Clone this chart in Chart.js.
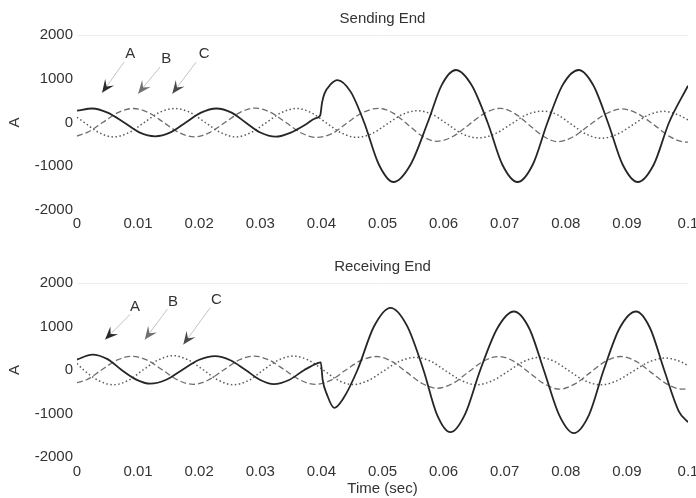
<!DOCTYPE html>
<html><head><meta charset="utf-8">
<script src="https://cdn.jsdelivr.net/npm/chart.js@4.4.1/dist/chart.umd.min.js"></script>
<style>
html,body{margin:0;padding:0;background:#fff;overflow:hidden;width:696px;height:498px;position:relative;}
canvas{position:absolute;left:0;}
#c1{top:0}
#c2{top:249px}
</style></head><body>
<canvas id="c1" width="720" height="249"></canvas>
<canvas id="c2" width="720" height="249"></canvas>
<script>
// ---------- axis ticks ----------
const xTicks = [0, 0.01, 0.02, 0.03, 0.04, 0.05, 0.06, 0.07, 0.08, 0.09, 0.1];
const xTickLabels = ['0', '0.01', '0.02', '0.03', '0.04', '0.05', '0.06', '0.07', '0.08', '0.09', '0.1'];
const yTicks = [-2000, -1000, 0, 1000, 2000];
const yTickLabels = ['-2000', '-1000', '0', '1000', '2000'];
const phaseNames = ['A', 'B', 'C'];

// ---------- Sending End (time in s, current in A) ----------
const sendTimeA = [0, 0.0025, 0.005, 0.0077, 0.0102, 0.0128, 0.0153, 0.0178, 0.0203, 0.0228, 0.0253, 0.0276, 0.0300, 0.0325, 0.0350, 0.0375, 0.0390, 0.0398, 0.0401, 0.0405, 0.0415, 0.0426, 0.0448, 0.0470, 0.0494, 0.0518, 0.0546, 0.0574, 0.0597, 0.0620, 0.0646, 0.0672, 0.0696, 0.0721, 0.0746, 0.0770, 0.0795, 0.0821, 0.0845, 0.0869, 0.0893, 0.0918, 0.0944, 0.0969, 0.1];
const sendA = [270, 320, 225, 0, -225, -315, -225, 0, 225, 320, 225, 0, -230, -325, -230, -40, 95, 160, 450, 660, 870, 970, 700, 0, -960, -1360, -960, 0, 860, 1200, 850, 0, -960, -1360, -960, 0, 860, 1200, 850, 0, -960, -1360, -960, 0, 840];

const sendTimeB = [0, 0.0017, 0.0042, 0.0067, 0.0092, 0.0117, 0.0142, 0.0167, 0.0192, 0.0217, 0.0242, 0.0267, 0.0292, 0.0317, 0.0342, 0.0367, 0.0392, 0.0418, 0.0443, 0.0468, 0.0494, 0.0518, 0.0542, 0.0566, 0.0589, 0.0615, 0.0641, 0.0667, 0.0693, 0.0716, 0.0740, 0.0764, 0.0787, 0.0813, 0.0839, 0.0866, 0.0892, 0.0918, 0.0945, 0.0971, 0.0998, 0.1];
const sendB = [-310, -225, 0, 225, 320, 225, 0, -230, -330, -230, 0, 230, 330, 230, 0, -240, -340, -250, 0, 230, 325, 210, -55, -320, -430, -320, -55, 210, 325, 210, -55, -320, -440, -320, -55, 200, 310, 200, -60, -330, -450, -450];

const sendTimeC = [0, 0.0012, 0.0036, 0.006, 0.0085, 0.011, 0.0135, 0.016, 0.0185, 0.021, 0.0235, 0.026, 0.0285, 0.031, 0.0335, 0.036, 0.0384, 0.0408, 0.0433, 0.0457, 0.0482, 0.0507, 0.0532, 0.0557, 0.0582, 0.0607, 0.0632, 0.0658, 0.0684, 0.071, 0.0736, 0.0762, 0.0786, 0.081, 0.0834, 0.0858, 0.0884, 0.091, 0.0935, 0.0961, 0.0985, 0.1];
const sendC = [120, 0, -230, -330, -230, 0, 230, 320, 230, 0, -230, -330, -230, 0, 230, 320, 220, -10, -240, -340, -260, -40, 180, 270, 180, -45, -270, -350, -260, -40, 180, 260, 180, -50, -270, -360, -270, -50, 170, 255, 170, 60];

// ---------- Receiving End ----------
const recvTimeA = [0, 0.0025, 0.005, 0.0073, 0.0097, 0.012, 0.0146, 0.0172, 0.0199, 0.0226, 0.0251, 0.0276, 0.030, 0.0322, 0.0347, 0.0372, 0.0395, 0.0399, 0.0402, 0.0409, 0.0421, 0.0436, 0.0459, 0.0486, 0.0513, 0.054, 0.0567, 0.0589, 0.0611, 0.0635, 0.066, 0.0688, 0.0715, 0.074, 0.0764, 0.0789, 0.0813, 0.0838, 0.0862, 0.0888, 0.0915, 0.0938, 0.0961, 0.0985, 0.1];
const recvA = [240, 355, 250, 0, -220, -315, -225, 0, 230, 320, 225, 0, -230, -325, -230, 0, 165, 175, -220, -560, -870, -650, 0, 1000, 1430, 1020, 0, -1020, -1430, -1020, 0, 960, 1345, 960, 0, -1030, -1450, -1030, 0, 960, 1345, 960, 0, -950, -1200];

const recvTimeB = [0, 0.0015, 0.004, 0.0065, 0.009, 0.0115, 0.014, 0.0165, 0.019, 0.0215, 0.024, 0.0265, 0.029, 0.0315, 0.034, 0.0365, 0.039, 0.0415, 0.044, 0.0465, 0.049, 0.0515, 0.054, 0.0565, 0.059, 0.0615, 0.064, 0.0665, 0.069, 0.0715, 0.074, 0.0765, 0.079, 0.0815, 0.084, 0.0865, 0.089, 0.0915, 0.094, 0.0965, 0.099, 0.1];
const recvB = [-290, -230, 0, 225, 315, 225, 0, -230, -330, -230, 0, 230, 320, 225, 0, -230, -330, -240, 0, 220, 310, 200, -55, -310, -420, -310, -55, 200, 310, 200, -60, -320, -440, -320, -60, 200, 310, 200, -60, -320, -440, -430];

const recvTimeC = [0, 0.0011, 0.0035, 0.0059, 0.0084, 0.0108, 0.0133, 0.0157, 0.0182, 0.0207, 0.0232, 0.0256, 0.0281, 0.0305, 0.033, 0.0354, 0.0379, 0.0403, 0.0428, 0.0452, 0.0477, 0.0502, 0.0528, 0.0554, 0.0579, 0.0604, 0.0629, 0.0654, 0.068, 0.0706, 0.0732, 0.0757, 0.0781, 0.0806, 0.0831, 0.0857, 0.0884, 0.091, 0.0937, 0.0964, 0.0988, 0.1];
const recvC = [150, 0, -240, -340, -240, 0, 230, 330, 230, 0, -240, -340, -240, 0, 230, 320, 225, 0, -240, -335, -240, -20, 200, 290, 200, -25, -240, -340, -245, -25, 200, 290, 200, -25, -245, -340, -245, -30, 190, 275, 190, 100];

// ---------- arrow annotations (data coordinates: [time, current]) ----------
const sendArrowLabel = [[0.0087, 1570], [0.0146, 1450], [0.0208, 1570]];
const sendArrowFrom  = [[0.0077, 1380], [0.0136, 1270], [0.0195, 1380]];
const sendArrowTip   = [[0.0041, 680], [0.0100, 660], [0.0156, 660]];
const recvArrowLabel = [[0.0095, 1450], [0.0157, 1570], [0.0228, 1610]];
const recvArrowFrom  = [[0.0087, 1280], [0.0148, 1400], [0.0218, 1430]];
const recvArrowTip   = [[0.0046, 700], [0.0111, 700], [0.0174, 585]];

// ---------- rendering ----------
const FONT = "'Liberation Sans', Arial, Helvetica, sans-serif";
Chart.defaults.font.family = FONT;
Chart.defaults.color = '#333';

function pts(ts, vs) { return ts.map((t, i) => ({x: t, y: vs[i]})); }

const lineStyles = [
  {borderColor: '#262626', borderWidth: 1.8, borderDash: []},
  {borderColor: '#6e6e6e', borderWidth: 1.3, borderDash: [6, 3]},
  {borderColor: '#5a5a5a', borderWidth: 1.5, borderDash: [1.5, 2.5]}
];
const arrowColors = ['#2a2a2a', '#707070', '#4a4a4a'];

const arrowPlugin = {
  id: 'phaseArrows',
  afterDatasetsDraw(chart, args, opts) {
    const {ctx} = chart;
    const xs = chart.scales.x, ys = chart.scales.y;
    ctx.save();
    opts.labels.forEach((lab, i) => {
      const lx = xs.getPixelForValue(lab[0]), ly = ys.getPixelForValue(lab[1]);
      const fx = xs.getPixelForValue(opts.from[i][0]), fy = ys.getPixelForValue(opts.from[i][1]);
      const tx = xs.getPixelForValue(opts.tip[i][0]), ty = ys.getPixelForValue(opts.tip[i][1]);
      ctx.strokeStyle = '#c4c4c4';
      ctx.lineWidth = 1;
      ctx.setLineDash([]);
      ctx.beginPath(); ctx.moveTo(fx, fy); ctx.lineTo(tx, ty); ctx.stroke();
      let dx = tx - fx, dy = ty - fy; const len = Math.hypot(dx, dy); dx /= len; dy /= len;
      const nx = -dy, ny = dx, L = 13, W = 5.5;
      ctx.fillStyle = arrowColors[i];
      ctx.beginPath();
      ctx.moveTo(tx, ty);
      ctx.lineTo(tx - dx * L + nx * W, ty - dy * L + ny * W);
      ctx.lineTo(tx - dx * L * 0.6, ty - dy * L * 0.6);
      ctx.lineTo(tx - dx * L - nx * W, ty - dy * L - ny * W);
      ctx.closePath(); ctx.fill();
      ctx.fillStyle = '#333';
      ctx.font = '15px ' + FONT;
      ctx.textAlign = 'center'; ctx.textBaseline = 'middle';
      ctx.fillText(phaseNames[i], lx, ly);
    });
    ctx.restore();
  }
};

function makeChart(id, title, series, arrows, titlePad, xHeight, xTickPad, xTitle) {
  const datasets = series.map((s, i) => Object.assign({
    label: phaseNames[i], data: pts(s[0], s[1]), pointRadius: 0,
    cubicInterpolationMode: 'monotone', fill: false
  }, lineStyles[i]));
  return new Chart(document.getElementById(id), {
    type: 'line',
    data: {datasets},
    plugins: [arrowPlugin],
    options: {
      responsive: false, animation: false, devicePixelRatio: 1,
      layout: {padding: {left: 0, right: 32, top: 0, bottom: 0}},
      plugins: {
        legend: {display: false}, tooltip: {enabled: false},
        title: {display: true, text: title, fullSize: false, color: '#333',
                font: {size: 15, weight: 'normal'}, padding: titlePad},
        phaseArrows: arrows
      },
      scales: {
        x: {
          type: 'linear', min: 0, max: 0.1,
          grid: {display: false, drawTicks: false}, border: {display: false},
          afterBuildTicks: s => { s.ticks = xTicks.map(v => ({value: v})); },
          afterFit: s => { s.height = xHeight; },
          ticks: {autoSkip: false, maxRotation: 0, padding: xTickPad, color: '#333',
                  font: {size: 15}, callback: (v, i) => xTickLabels[i]},
          title: {display: !!xTitle, text: xTitle || '', color: '#333',
                  font: {size: 15}, padding: {top: 0, bottom: 0}}
        },
        y: {
          min: -2000, max: 2000,
          grid: {drawTicks: false, color: c => (c.tick && c.tick.value === 2000) ? '#ececec' : 'rgba(0,0,0,0)'},
          border: {display: false},
          afterBuildTicks: s => { s.ticks = yTicks.map(v => ({value: v})); },
          afterFit: s => { s.width = 77; },
          ticks: {padding: 4, color: '#333', font: {size: 15}, callback: (v, i) => yTickLabels[i]},
          title: {display: true, text: 'A', color: '#333', font: {size: 15}, padding: {top: 6, bottom: 0}}
        }
      }
    }
  });
}

makeChart('c1', 'Sending End',
  [[sendTimeA, sendA], [sendTimeB, sendB], [sendTimeC, sendC]],
  {labels: sendArrowLabel, from: sendArrowFrom, tip: sendArrowTip},
  {top: 10, bottom: 7}, 39, 5, null);

makeChart('c2', 'Receiving End',
  [[recvTimeA, recvA], [recvTimeB, recvB], [recvTimeC, recvC]],
  {labels: recvArrowLabel, from: recvArrowFrom, tip: recvArrowTip},
  {top: 9, bottom: 7}, 41, 6, 'Time (sec)');
</script>
</body></html>
